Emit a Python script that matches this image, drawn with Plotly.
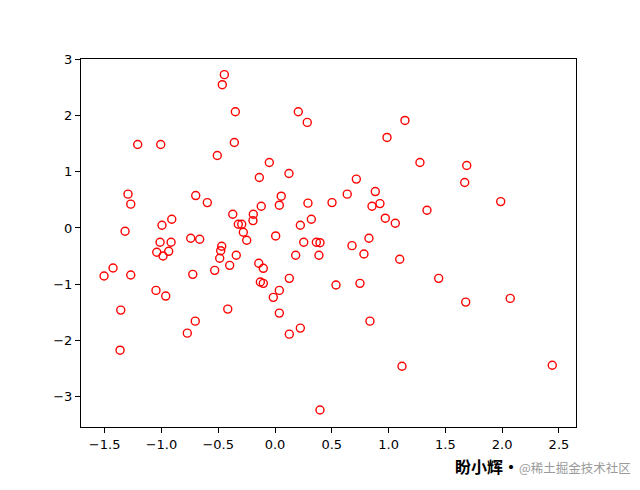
import plotly.graph_objects as go

x_vals = [-0.446, -0.464, -0.349, 0.205, 0.284, -1.209, -1.006, -0.358, -0.508, -0.050,
          -0.138, 0.123, -1.294, -1.270, -0.698, -0.596, 0.055, 0.038, 0.290, 0.502,
          -0.372, -0.191, -0.194, -0.121, -0.909, -0.995, -1.320, -0.323, -0.293, -0.279,
          -0.249, 0.223, 0.320, 0.006, -0.742, -0.663, -1.012, -0.915, 0.253, 0.364,
          -0.469, 1.144, 0.986, 1.276, 1.688, 1.670, 1.987, 0.716, 0.636, 0.883,
          0.854, 0.924, 1.338, 0.971, 1.059, 0.827, 0.678, 0.396, -1.041, -0.936,
          -0.986, -0.478, -0.487, -0.341, 0.182, 0.387, -1.426, -1.505, -1.270, -0.724,
          -0.531, -0.399, -0.143, -0.103, 0.126, -0.129, -0.103, -1.048, -0.962, 0.038,
          -0.015, -1.358, -0.416, 0.038, -0.702, -0.772, 0.223, 0.126, -1.364, 0.396,
          0.783, 1.098, 1.441, 0.537, 0.748, 1.679, 2.071, 0.836, 1.118, 2.441]
y_vals = [2.722, 2.544, 2.064, 2.064, 1.874, 1.482, 1.482, 1.518, 1.286, 1.162,
          0.895, 0.966, 0.600, 0.422, 0.575, 0.450, 0.564, 0.404, 0.440, 0.450,
          0.244, 0.244, 0.130, 0.386, 0.155, 0.048, -0.059, 0.066, 0.066, -0.077,
          -0.219, 0.048, 0.155, -0.142, -0.183, -0.201, -0.254, -0.254, -0.254, -0.254,
          -0.326, 1.909, 1.607, 1.162, 1.109, 0.806, 0.468, 0.867, 0.600, 0.646,
          0.386, 0.432, 0.315, 0.173, 0.084, -0.183, -0.315, -0.262, -0.432, -0.415,
          -0.498, -0.404, -0.539, -0.486, -0.486, -0.486, -0.712, -0.854, -0.836, -0.824,
          -0.753, -0.664, -0.628, -0.717, -0.895, -0.961, -0.984, -1.109, -1.210, -1.109,
          -1.233, -1.459, -1.441, -1.512, -1.655, -1.868, -1.779, -1.886, -2.171, -3.233,
          -0.463, -0.557, -0.895, -1.014, -0.984, -1.317, -1.251, -1.655, -2.456, -2.438]

x_ticks = [-1.5, -1.0, -0.5, 0.0, 0.5, 1.0, 1.5, 2.0, 2.5]
y_ticks = [-3, -2, -1, 0, 1, 2, 3]

W, H = 632, 482
L, R, T, B = 73, 64, 51, 63

fig = go.Figure(go.Scatter(
    x=x_vals, y=y_vals, mode="markers",
    marker=dict(symbol="circle-open", size=8, color="red", line=dict(width=1.4, color="red")),
))

axis_common = dict(
    showgrid=False, zeroline=False, showline=True, linecolor="black", linewidth=1,
    mirror=True, ticks="outside", ticklen=5, tickwidth=1, tickcolor="black",
    tickfont=dict(family="DejaVu Sans", size=13, color="black"),
)

def paper(px, py):
    # px, py: pixel coords in the page (body has 8px margin)
    fx, fy = px - 8, py - 8
    return (fx - L) / (W - L - R), (H - B - fy) / (H - T - B)

ax1, ay1 = paper(453, 466)
ax2, ay2 = paper(517, 467)

fig.update_layout(
    width=W, height=H,
    margin=dict(l=L, r=R, t=T, b=B),
    paper_bgcolor="white", plot_bgcolor="white",
    showlegend=False,
    xaxis=dict(range=[-1.708, 2.65], tickvals=x_ticks, tickformat=".1f", **axis_common),
    yaxis=dict(range=[-3.535, 3.0], tickvals=y_ticks, **axis_common),
    annotations=[
        dict(text="<b>盼小辉·</b>", x=ax1, y=ay1, xref="paper", yref="paper",
             showarrow=False, xanchor="left", yanchor="middle",
             font=dict(family="Noto Sans CJK SC", size=16, color="black")),
        dict(text="@稀土掘金技术社区", x=ax2, y=ay2, xref="paper", yref="paper",
             showarrow=False, xanchor="left", yanchor="middle",
             font=dict(family="Noto Sans CJK SC", size=12.5, color="#9a9a9a")),
    ],
)

fig.write_html("out.html")
